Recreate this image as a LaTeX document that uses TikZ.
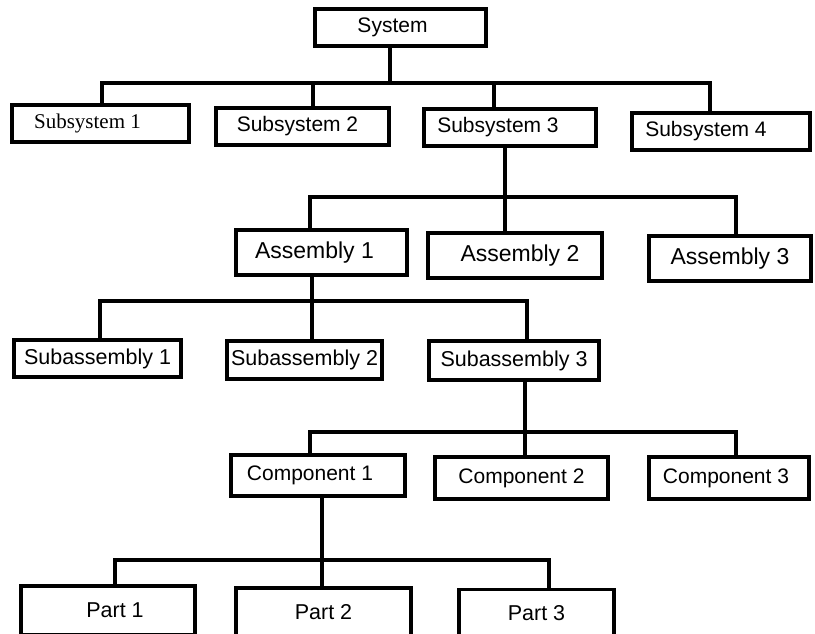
\documentclass[tikz,border=0pt]{standalone}
\usepackage{fontspec}
\setmainfont{Liberation Sans}
\newfontfamily\serifface{Liberation Serif}
% shift a label sideways inside its box by #1
\newcommand{\nudge}[2]{\ifdim#1pt<0pt\hspace*{\dimexpr2\dimexpr#1pt\relax\relax}#2\else#2\hspace*{-\dimexpr2\dimexpr#1pt\relax\relax}\fi}
\begin{document}
\begin{tikzpicture}[x=1pt,y=-1pt,
  box/.style={draw=black, line width=3.1pt, inner sep=0pt, fill=white},
  link/.style={draw=black, line width=3.1pt, line join=miter},
  fa/.style={font=\fontsize{21}{24}\selectfont},
  fb/.style={font=\fontsize{23}{26}\selectfont},
  fc/.style={font=\fontsize{21.5}{25}\selectfont},
  fd/.style={font=\fontsize{21}{25}\selectfont}]
\useasboundingbox (0,0) rectangle (815,634);
\fill[white] (0,0) rectangle (815,634);
\clip (0,0) rectangle (815,634);

% level 0
\node[box, fa, minimum width=171pt, minimum height=37pt] (sys) at (400.5,27.5) {\nudge{-8}{System}};

% level 1
\node[box, fd, minimum width=177pt, minimum height=37pt] (sub1) at (100.5,123.5) {\nudge{-13}{\serifface Subsystem 1}};
\node[box, fa, minimum width=173pt, minimum height=37pt] (sub2) at (302.5,126.5) {\nudge{-5}{Subsystem 2}};
\node[box, fa, minimum width=172pt, minimum height=37pt] (sub3) at (510,127.5) {\nudge{-12}{Subsystem 3}};
\node[box, fa, minimum width=178pt, minimum height=37pt] (sub4) at (721,131.5) {\nudge{-15}{Subsystem 4}};

% level 2
\node[box, fb, minimum width=171pt, minimum height=45pt] (asm1) at (321.5,252.5) {\nudge{-7}{Assembly 1}};
\node[box, fb, minimum width=174pt, minimum height=45pt] (asm2) at (515,255.5) {\nudge{5}{Assembly 2}};
\node[box, fb, minimum width=162pt, minimum height=45pt] (asm3) at (730,258.5) {Assembly 3};

% level 3
\node[box, fc, minimum width=167pt, minimum height=37pt] (sa1) at (97.5,358.5) {Subassembly 1};
\node[box, fc, minimum width=155pt, minimum height=38pt] (sa2) at (304.5,360) {Subassembly 2};
\node[box, fc, minimum width=170pt, minimum height=39pt] (sa3) at (514,360.5) {Subassembly 3};

% level 4
\node[box, fd, minimum width=174pt, minimum height=41pt] (cp1) at (318,475.5) {\nudge{-8}{Component 1}};
\node[box, fd, minimum width=173pt, minimum height=42pt] (cp2) at (521.5,478) {Component 2};
\node[box, fd, minimum width=160pt, minimum height=42pt] (cp3) at (729,478) {\nudge{-3}{Component 3}};

% level 5
\node[box, fc, minimum width=174pt, minimum height=49pt] (pt1) at (108,610.5) {\nudge{7}{Part 1}};
\node[box, fc, minimum width=175pt, minimum height=48pt] (pt2) at (323.5,612) {Part 2};
\node[box, fc, minimum width=155pt, minimum height=47pt] (pt3) at (536.5,613) {Part 3};

% junctions on the bus lines
\coordinate (a0) at (390,83);
\coordinate (a1) at (102,83);
\coordinate (a2) at (313,83);
\coordinate (a3) at (494,83);
\coordinate (a4) at (710,83);

\coordinate (b0) at (505,197);
\coordinate (b1) at (310,197);
\coordinate (b3) at (736,197);

\coordinate (c0) at (312,301);
\coordinate (c1) at (100,301);
\coordinate (c3) at (527,301);

\coordinate (d0) at (525,432);
\coordinate (d1) at (310,432);
\coordinate (d3) at (736,432);

\coordinate (e0) at (322,560);
\coordinate (e1) at (115,560);
\coordinate (e3) at (549,560);

% system -> subsystems
\draw[link] (sys.south -| a0) -- (a0);
\draw[link] (sub1.north -| a1) -- (a1) -- (a4) -- (sub4.north -| a4);
\draw[link] (a2) -- (sub2.north -| a2);
\draw[link] (a3) -- (sub3.north -| a3);

% subsystem 3 -> assemblies
\draw[link] (sub3.south -| b0) -- (asm2.north -| b0);
\draw[link] (asm1.north -| b1) -- (b1) -- (b3) -- (asm3.north -| b3);

% assembly 1 -> subassemblies
\draw[link] (asm1.south -| c0) -- (sa2.north -| c0);
\draw[link] (sa1.north -| c1) -- (c1) -- (c3) -- (sa3.north -| c3);

% subassembly 3 -> components
\draw[link] (sa3.south -| d0) -- (cp2.north -| d0);
\draw[link] (cp1.north -| d1) -- (d1) -- (d3) -- (cp3.north -| d3);

% component 1 -> parts
\draw[link] (cp1.south -| e0) -- (pt2.north -| e0);
\draw[link] (pt1.north -| e1) -- (e1) -- (e3) -- (pt3.north -| e3);
\end{tikzpicture}
\end{document}
